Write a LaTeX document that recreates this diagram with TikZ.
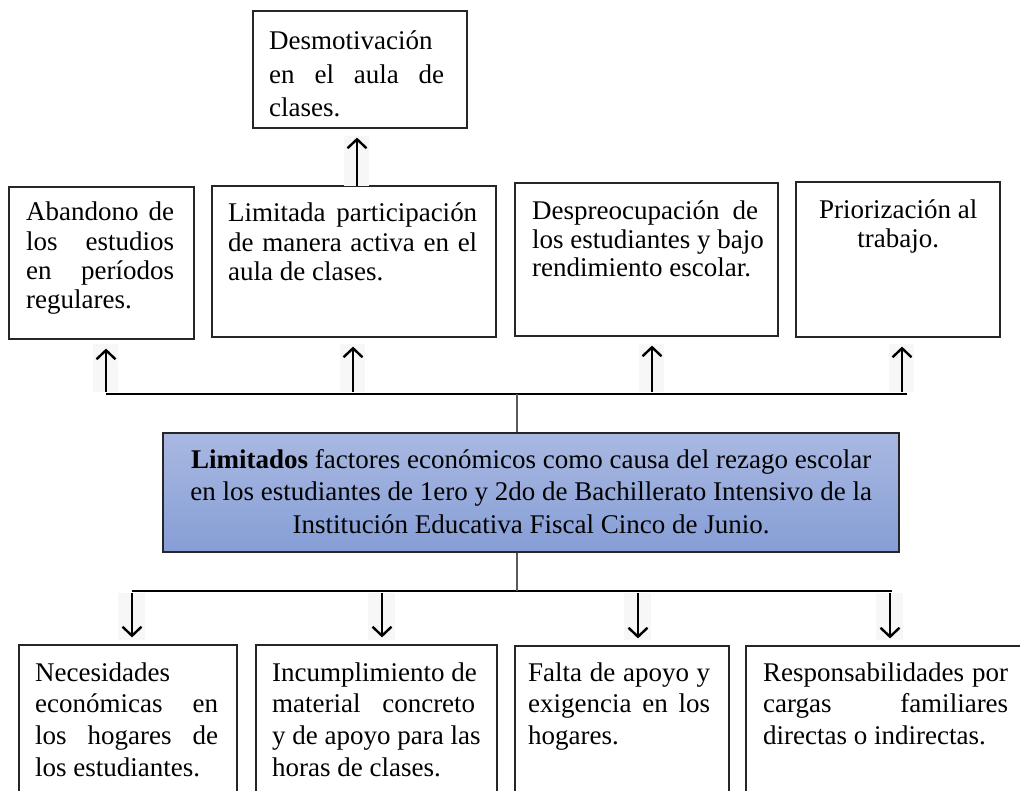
\documentclass[tikz,border=0pt]{standalone}
\usepackage{fontspec}
\setmainfont{Liberation Serif}
\usetikzlibrary{arrows.meta}
\definecolor{ctop}{HTML}{A9B8E1}
\definecolor{cbot}{HTML}{869ED6}
\newlength\lw
\newcommand\Jt[1]{\hbox to\lw{\spaceskip=.25em plus 1fil\relax #1}}
\newcommand\Lf[1]{\hbox to\lw{#1\hfil}}
\newcommand\Cn[1]{\hbox to\lw{\hfil#1\hfil}}
\newcommand\blk[3]{\setlength\lw{#1pt}\vtop{\baselineskip=#2pt\relax #3}}
\newcommand\mkbox[6][]{\node[box,#1,minimum width={#4-#2},minimum height={#6-#3}] (#5) at ({(#2+#4)/2},{(#3+#6)/2}) {};}
\begin{document}
\begin{tikzpicture}[x=1pt,y=-1pt,
  box/.style={draw=black!85,line width=1.2pt,inner sep=0pt},
  txt/.style={inner sep=0pt,anchor=base west,font=\fontsize{27}{30}\selectfont},
  bus/.style={line width=2.6pt},
  stem/.style={line width=1.8pt,draw=black!65},
  arr/.style={line width=2.4pt,-{Straight Barb[length=9pt,width=19pt,line width=2.4pt]}},
  arrbg/.style={fill=black!3,draw=none}]
\useasboundingbox (0,0) rectangle (1020,791);
\clip (0,0) rectangle (1020,791);
% boxes: args: x1,y1,x2,name,y2
\mkbox{253}{11}{467}{t0}{128}
\mkbox{9}{187}{194}{b1}{339}
\mkbox{212}{186}{496}{b2}{337}
\mkbox{515}{183}{778}{b3}{336}
\mkbox{796}{182}{1000}{b4}{337}
\mkbox[top color=ctop,bottom color=cbot]{163}{433}{899}{c}{552}
\mkbox{19}{645}{237}{d1}{830}
\mkbox{256}{645}{497}{d2}{830}
\mkbox{515}{646}{729}{d3}{830}
\mkbox{746}{646}{1040}{d4}{830}
% texts
\node[txt] (tt0) at (269,50) {\blk{175}{33.5}{\Lf{Desmotivación}\Jt{en el aula de}\Lf{clases.}}};
\node[txt] (tb1) at (26,221) {\blk{148}{29.2}{\Jt{Abandono de}\Jt{los estudios}\Jt{en períodos}\Lf{regulares.}}};
\node[txt] (tb2) at (228,222) {\blk{249}{29.2}{\Jt{Limitada participación}\Jt{de manera activa en el}\Lf{aula de clases.}}};
\node[txt] (tb3) at (532,220) {\blk{226}{28.5}{\Jt{Despreocupación de}\Jt{los estudiantes y bajo}\Lf{rendimiento escolar.}}};
\node[txt] (tb4) at (796,219) {\blk{204}{28.5}{\Cn{Priorización al}\Cn{trabajo.}}};
\node[txt] (tc) at (163,468) {\blk{736}{32.5}{\Cn{\textbf{Limitados} factores económicos como causa del rezago escolar}\Cn{en los estudiantes de 1ero y 2do de Bachillerato Intensivo de la}\Cn{Institución Educativa Fiscal Cinco de Junio.}}};
\node[txt] (td1) at (35,681) {\blk{183}{31.7}{\Lf{Necesidades}\Jt{económicas en}\Jt{los hogares de}\Lf{los estudiantes.}}};
\node[txt] (td2) at (272,681) {\blk{203}{31.7}{\Jt{Incumplimiento de}\Jt{material concreto}\Jt{y de apoyo para las}\Lf{horas de clases.}}};
\node[txt] (td3) at (528,681) {\blk{182}{31.7}{\Jt{Falta de apoyo y}\Jt{exigencia en los}\Lf{hogares.}}};
\node[txt] (td4) at (763,681) {\blk{245}{31.7}{\Jt{Responsabilidades por}\Jt{cargas familiares}\Lf{directas o indirectas.}}};
% bus coordinates
\coordinate (ul) at (106,394); \coordinate (ur) at (907,394);
\coordinate (cu) at (517,394);
\coordinate (ll) at (132,591); \coordinate (lr) at (892,591);
\coordinate (cl) at (517,591);
\coordinate (a0) at (357,186);
\coordinate (a1) at (106,392); \coordinate (a2) at (353,392);
\coordinate (a3) at (652,392); \coordinate (a4) at (902,392);
\coordinate (e1) at (132,593); \coordinate (e2) at (382,593);
\coordinate (e3) at (638,593); \coordinate (e4) at (890,593);
% arrow backgrounds
\foreach \p in {a1,a2,a3,a4}{\fill[arrbg] ([xshift=-13pt]\p) rectangle ([xshift=12pt,yshift=48pt]\p);}
\fill[arrbg] ([xshift=-13pt]a0) rectangle ([xshift=12pt,yshift=50pt]a0);
\foreach \p in {e1,e2,e3,e4}{\fill[arrbg] ([xshift=-14pt]\p) rectangle ([xshift=13pt,yshift=-47pt]\p);}
% connectors
\draw[bus] (ul) -- (ur);
\draw[bus] (ll) -- (lr);
\draw[stem] (cu) -- (cu |- c.north);
\draw[stem] (cl |- c.south) -- (cl);
\draw[arr,shorten >=9pt] (a0) -- (a0 |- t0.south);
\draw[arr,shorten >=9pt] (a1) -- (a1 |- b1.south);
\draw[arr,shorten >=9pt] (a2) -- (a2 |- b2.south);
\draw[arr,shorten >=9pt] (a3) -- (a3 |- b3.south);
\draw[arr,shorten >=9pt] (a4) -- (a4 |- b4.south);
\draw[arr,shorten >=7pt] (e1) -- (e1 |- d1.north);
\draw[arr,shorten >=7pt] (e2) -- (e2 |- d2.north);
\draw[arr,shorten >=7pt] (e3) -- (e3 |- d3.north);
\draw[arr,shorten >=7pt] (e4) -- (e4 |- d4.north);
\end{tikzpicture}
\end{document}
